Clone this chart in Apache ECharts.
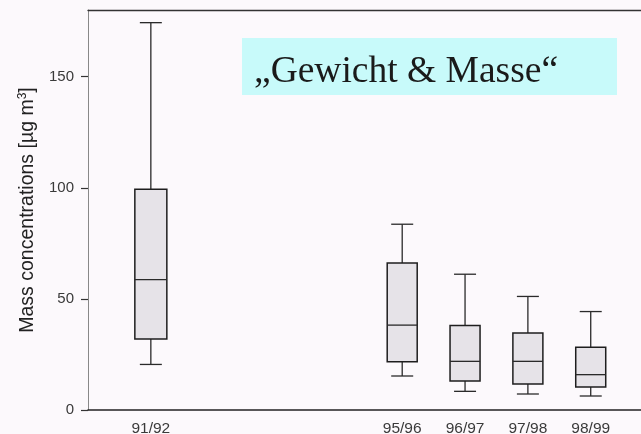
<!DOCTYPE html>
<html>
<head>
<meta charset="utf-8">
<script src="https://cdn.jsdelivr.net/npm/echarts@6/dist/echarts.min.js"></script>
<style>
html,body{margin:0;padding:0;background:#fcf9fc;}
#c{width:641px;height:434px;}
</style>
</head>
<body>
<div id="c"></div>
<script>
var seasons = ['91/92', '95/96', '96/97', '97/98', '98/99'];
var seasonStart = [91, 95, 96, 97, 98];
var whiskerLow = [20.5, 15.3, 8.4, 7.2, 6.3];
var q1 = [32.0, 21.7, 13.0, 11.7, 10.3];
var median = [58.7, 38.2, 21.9, 21.9, 15.9];
var q3 = [99.3, 66.2, 38.0, 34.7, 28.2];
var whiskerHigh = [174.3, 83.6, 61.1, 51.1, 44.3];
var yTicks = [0, 50, 100, 150];
var titleText = '\u201EGewicht & Masse\u201C';

var boxData = seasons.map(function (s, i) {
  return [seasonStart[i], whiskerLow[i], q1[i], median[i], q3[i], whiskerHigh[i]];
});

var chart = echarts.init(document.getElementById('c'), null, {renderer: 'canvas'});
chart.setOption({
  backgroundColor: '#fcf9fc',
  animation: false,
  grid: {left: 88, right: 0, top: 10, bottom: 24, outerBoundsMode: 'none', containLabel: false},
  xAxis: [{
    type: 'value',
    min: 90,
    max: 98.8,
    splitLine: {show: false},
    axisLine: {show: true, lineStyle: {color: '#222', width: 1.5}},
    axisTick: {show: false},
    axisLabel: {
      customValues: seasonStart,
      margin: 11,
      color: '#3a3a3a',
      fontSize: 15.5,
      fontFamily: 'Liberation Sans, Arial, sans-serif',
      formatter: function (v) {
        var i = seasonStart.indexOf(v);
        return i >= 0 ? seasons[i] : '';
      }
    }
  }, {
    type: 'value',
    position: 'top',
    min: 90,
    max: 98.8,
    splitLine: {show: false},
    axisLine: {show: true, onZero: false, lineStyle: {color: '#333', width: 1.3}},
    axisTick: {show: false},
    axisLabel: {show: false}
  }],
  yAxis: {
    type: 'value',
    min: 0,
    max: 180,
    splitLine: {show: false},
    axisLine: {show: true, lineStyle: {color: '#888', width: 1}},
    axisTick: {show: true, customValues: yTicks, length: 7, lineStyle: {color: '#333', width: 1.2}},
    axisLabel: {
      customValues: yTicks,
      margin: 14,
      color: '#3a3a3a',
      fontSize: 15,
      fontFamily: 'Liberation Sans, Arial, sans-serif'
    },
    name: 'Mass concentrations [\u00B5g m{sup|3}]',
    nameLocation: 'middle',
    nameGap: 50,
    nameTextStyle: {
      color: '#222',
      fontSize: 19.5,
      fontFamily: 'Liberation Sans, Arial, sans-serif',
      rich: {
        sup: {fontSize: 12, verticalAlign: 'top', padding: [0, 0, 9, 0], color: '#222', fontFamily: 'Liberation Sans, Arial, sans-serif'}
      }
    }
  },
  graphic: [{
    type: 'rect',
    shape: {x: 242, y: 38, width: 375, height: 57},
    style: {fill: '#c8fafa'},
    z: 10
  }, {
    type: 'text',
    x: 254,
    y: 72,
    style: {
      text: titleText,
      fill: '#1a1a1a',
      font: '37.5px "Liberation Serif", "Times New Roman", serif',
      verticalAlign: 'middle',
      align: 'left'
    },
    z: 11
  }],
  series: [{
    type: 'custom',
    xAxisIndex: 0,
    yAxisIndex: 0,
    data: boxData,
    encode: {x: 0, y: [1, 2, 3, 4, 5]},
    renderItem: function (params, api) {
      var x = api.value(0);
      var pLow = api.coord([x, api.value(1)]);
      var pQ1 = api.coord([x, api.value(2)]);
      var pMed = api.coord([x, api.value(3)]);
      var pQ3 = api.coord([x, api.value(4)]);
      var pHigh = api.coord([x, api.value(5)]);
      var cx = pQ1[0];
      var bw = params.dataIndex === 0 ? 32 : 30;
      var cw = 22;
      var lineStyle = {stroke: '#2a2a2a', lineWidth: 1.3};
      return {
        type: 'group',
        children: [
          {type: 'line', shape: {x1: cx, y1: pQ3[1], x2: cx, y2: pHigh[1]}, style: lineStyle},
          {type: 'line', shape: {x1: cx, y1: pQ1[1], x2: cx, y2: pLow[1]}, style: lineStyle},
          {type: 'line', shape: {x1: cx - cw / 2, y1: pHigh[1], x2: cx + cw / 2, y2: pHigh[1]}, style: lineStyle},
          {type: 'line', shape: {x1: cx - cw / 2, y1: pLow[1], x2: cx + cw / 2, y2: pLow[1]}, style: lineStyle},
          {type: 'rect', shape: {x: cx - bw / 2, y: pQ3[1], width: bw, height: pQ1[1] - pQ3[1]},
            style: {fill: '#e6e3e8', stroke: '#1e1e1e', lineWidth: 1.5}},
          {type: 'line', shape: {x1: cx - bw / 2, y1: pMed[1], x2: cx + bw / 2, y2: pMed[1]}, style: {stroke: '#2a2a2a', lineWidth: 1.3}}
        ]
      };
    }
  }]
});
</script>
</body>
</html>
